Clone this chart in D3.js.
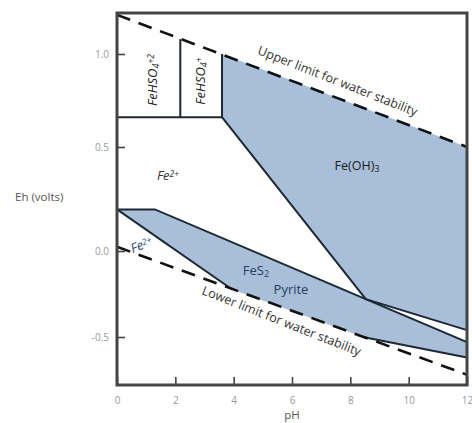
<!DOCTYPE html>
<html><head><meta charset="utf-8">
<script src="https://cdn.jsdelivr.net/npm/d3@7"></script>
<style>body{margin:0;background:#fff}svg{display:block}text{font-family:"Open Sans",sans-serif}</style>
</head><body><svg id="c" width="472" height="423"></svg>
<script>
// ---- data (pH, Eh) ----
const pHTicks = [0, 2, 4, 6, 8, 10, 12];
const ehTicks = [-0.5, 0.0, 0.5, 1.0];
const ehTickLabels = ["-0.5", "0.0", "0.5", "1.0"];
const upperWater = [[0, 1.21], [12, 0.50]];
const lowerWater = [[0, 0.02], [12, -0.72]];
const feOH3Region = [[3.6, 1.0], [3.6, 0.66], [8.53, -0.28], [12, -0.46], [12, 0.50]];
const feOH3Boundary = [[3.6, 1.0], [3.6, 0.66], [8.53, -0.28], [12, -0.46]];
const pyriteRegion = [[0, 0.20], [1.3, 0.20], [8.53, -0.28], [12, -0.53], [12, -0.62], [8.43, -0.50], [3.95, -0.224]];
const pyriteUpper = [[0, 0.20], [1.3, 0.20], [8.53, -0.28], [12, -0.53]];
const pyriteLowerA = [[0, 0.20], [3.95, -0.224]];
const pyriteLowerB = [[8.43, -0.50], [12, -0.62]];
const sulfateLine = [[0, 0.66], [3.6, 0.66]];
const sulfateDivider = [[2.17, 0.66], [2.17, 1.08]];

const svg = d3.select("#c");
const x = d3.scaleLinear().domain([0, 12]).range([117, 467]);
const y = d3.scaleLinear().domain([-0.78, -0.5, 0, 0.5, 1.0, 1.22]).range([385, 337, 251, 147, 54, 13]);
const line = d3.line().x(d => x(d[0])).y(d => y(d[1]));
const fill = "#a9bfd9", dark = "#1c2833";

svg.append("path").attr("d", line(feOH3Region) + "Z").attr("fill", fill);
svg.append("path").attr("d", line(pyriteRegion) + "Z").attr("fill", fill);

[feOH3Boundary, pyriteUpper, pyriteLowerA, pyriteLowerB, sulfateLine, sulfateDivider].forEach(p =>
  svg.append("path").attr("d", line(p)).attr("fill", "none").attr("stroke", dark).attr("stroke-width", 2));

[upperWater, lowerWater].forEach(p =>
  svg.append("path").attr("d", line(p)).attr("fill", "none").attr("stroke", "#111")
    .attr("stroke-width", 2.6).attr("stroke-dasharray", "14,9"));

// frame
const x0 = x(0), x1 = x(12), yb = y(-0.78), yt = y(1.22);
svg.append("rect").attr("x", x0).attr("y", yt).attr("width", x1 - x0).attr("height", yb - yt)
  .attr("fill", "none").attr("stroke", "#444").attr("stroke-width", 3);

// axes
const xAxis = d3.axisBottom(x).tickValues(pHTicks).tickSize(-8).tickPadding(12).tickFormat(d3.format("d"));
const gx = svg.append("g").attr("transform", `translate(0,${yb})`).call(xAxis);
const yAxis = d3.axisLeft(y).tickValues(ehTicks).tickSize(-8).tickPadding(8).tickFormat((d, i) => ehTickLabels[i]);
const gy = svg.append("g").attr("transform", `translate(${x0},0)`).call(yAxis);
[gx, gy].forEach(g => {
  g.select(".domain").remove();
  g.selectAll(".tick line").attr("stroke", "#444").attr("stroke-width", 1.6);
  g.selectAll(".tick text").attr("fill", "#9a9a9a").attr("font-size", 10);
});

svg.append("text").attr("x", 15).attr("y", 201).attr("font-size", 11.5).attr("fill", "#555").text("Eh (volts)");
svg.append("text").attr("x", 292).attr("y", 419).attr("text-anchor", "middle").attr("font-size", 11.5).attr("fill", "#555").text("pH");

// region labels
function chem(tx, ty, rot, parts, opt) {
  const t = svg.append("text").attr("transform", `translate(${tx},${ty}) rotate(${rot})`)
    .attr("text-anchor", "middle").attr("font-size", opt.size).attr("fill", opt.color)
    .attr("font-style", opt.italic ? "italic" : "normal");
  parts.forEach(p => {
    const s = t.append("tspan").text(p[0]);
    if (p[1] === "sub") s.attr("baseline-shift", "-25%").attr("font-size", opt.size * 0.7);
    if (p[1] === "sup") s.attr("baseline-shift", "40%").attr("font-size", opt.size * 0.65);
  });
}
chem(157, 80, -90, [["FeHSO"], ["4", "sub"], ["+2", "sup"]], {size: 13, color: "#222", italic: true});
chem(205, 81, -90, [["FeHSO"], ["4", "sub"], ["+", "sup"]], {size: 13, color: "#222", italic: true});
chem(168, 180, 0, [["Fe"], ["2+", "sup"]], {size: 13, color: "#333", italic: true});
chem(143, 249, -22, [["Fe"], ["2+", "sup"]], {size: 13, color: "#2a4a6e", italic: true});
chem(357, 170, 0, [["Fe(OH)"], ["3", "sub"]], {size: 12.5, color: "#1a1a1a", italic: false});
chem(256, 275, 0, [["FeS"], ["2", "sub"]], {size: 13, color: "#233f63", italic: false});
chem(291, 294, 0, [["Pyrite"]], {size: 13, color: "#233f63", italic: false});

svg.append("text").attr("transform", "translate(336,85) rotate(21.5)").attr("text-anchor", "middle")
  .attr("font-size", 12.5).attr("fill", "#333").text("Upper limit for water stability");
svg.append("text").attr("transform", "translate(280,325) rotate(21.5)").attr("text-anchor", "middle")
  .attr("font-size", 12.5).attr("fill", "#333").text("Lower limit for water stability");
</script></body></html>
